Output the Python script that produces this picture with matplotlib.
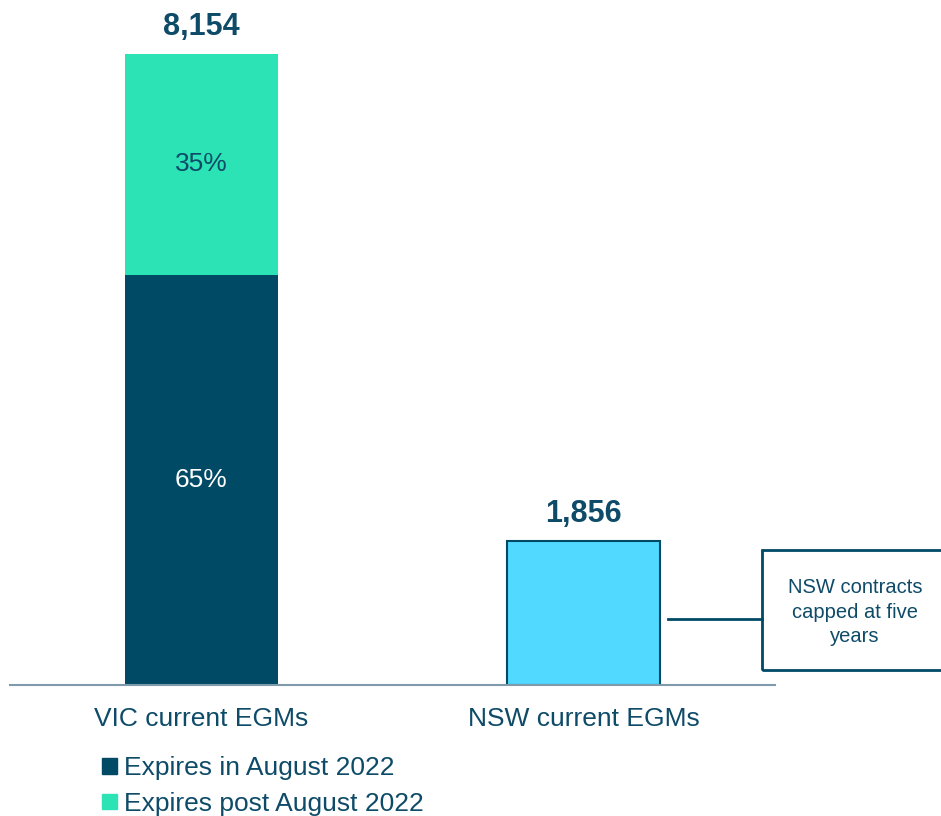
import matplotlib.pyplot as plt
from matplotlib.patches import Rectangle, Patch
from matplotlib.lines import Line2D

plt.rcParams['font.family'] = ['Liberation Sans', 'DejaVu Sans']

categories = ["VIC current EGMs", "NSW current EGMs"]
totals = [8154, 1856]
vic_share = [0.65, 0.35]  # expires in Aug 2022, post Aug 2022
series_names = ["Expires in August 2022", "Expires post August 2022"]

DARK = "#004A66"
GREEN = "#2BE3B4"
BLUE = "#52D9FF"
TEXT = "#0E4B68"

W, H = 941, 816
fig = plt.figure(figsize=(W / 100, H / 100), dpi=100)
ax = fig.add_axes([10 / W, (H - 685) / H, 765 / W, 685 / H])

vic_low = totals[0] * vic_share[0]
vic_high = totals[0] * vic_share[1]
ax.bar(0, vic_low, width=0.4, color=DARK)
ax.bar(0, vic_high, bottom=vic_low, width=0.4, color=GREEN)
ax.bar(1, totals[1], width=0.4, color=BLUE, edgecolor=DARK, linewidth=1.5)

ax.text(0, vic_low / 2, f"{vic_share[0]:.0%}", ha="center", va="center",
        color="white", fontsize=19)
ax.text(0, vic_low + vic_high / 2, f"{vic_share[1]:.0%}", ha="center",
        va="center", color=TEXT, fontsize=19)
for i, t in enumerate(totals):
    ax.annotate(f"{t:,}", (i, t), xytext=(0, 9), textcoords="offset points",
                ha="center", va="bottom", fontsize=22, fontweight="bold",
                color=TEXT)

ax.set_xlim(-0.5, 1.5)
ax.set_ylim(0, totals[0] * 685 / 631)
for s in ["top", "right", "left"]:
    ax.spines[s].set_visible(False)
ax.spines["bottom"].set_color("#7F9AAB")
ax.spines["bottom"].set_linewidth(1.5)
ax.set_yticks([])
ax.set_xticks(range(len(categories)))
ax.set_xticklabels(categories, fontsize=19, color=TEXT)
ax.tick_params(axis="x", length=0, pad=16)

# callout box
px = lambda x, y: (x / W, 1 - y / H)
fig.patches.append(Rectangle(px(762, 670), 190 / W, 120 / H,
                             transform=fig.transFigure, fill=False,
                             edgecolor=DARK, linewidth=2))
fig.lines.append(Line2D([668 / W, 762 / W], [1 - 619 / H] * 2,
                        transform=fig.transFigure, color=DARK, linewidth=2))
fig.text(855 / W, 1 - 612 / H, "NSW contracts\ncapped at five\nyears",
         ha="center", va="center", fontsize=14.5, color=TEXT, linespacing=1.38)

handles = [Patch(color=DARK), Patch(color=GREEN)]
fig.legend(handles, series_names, loc="upper left",
           bbox_to_anchor=(102 / W, 1 - 756 / H), frameon=False, fontsize=19,
           labelcolor=TEXT, handlelength=0.55, handleheight=0.55,
           handletextpad=0.3, labelspacing=0.45, borderpad=0, borderaxespad=0)

fig.savefig("out.png", dpi=100)
